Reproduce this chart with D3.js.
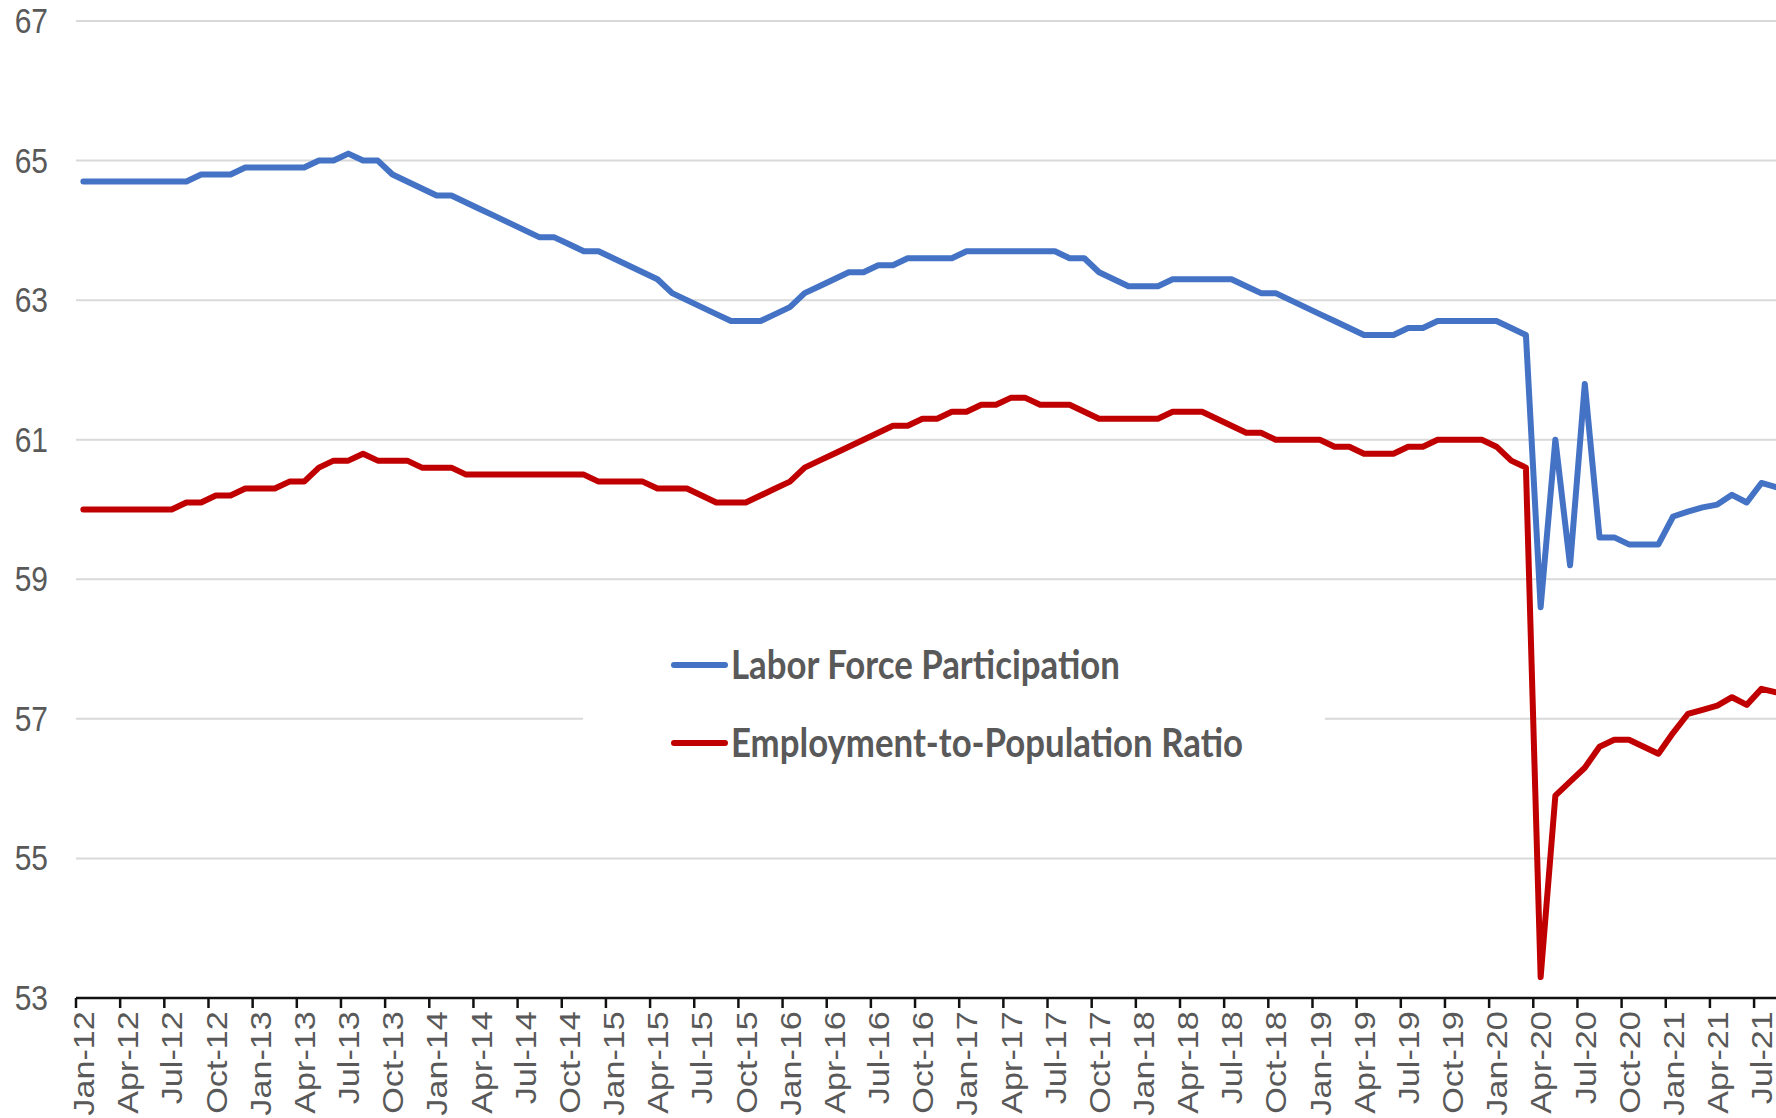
<!DOCTYPE html>
<html>
<head>
<meta charset="utf-8">
<script src="https://cdn.jsdelivr.net/npm/d3@7"></script>
<style>
  body { margin: 0; background: #fff; }
  svg { display: block; }
  .axis-label { font: 30px "Liberation Sans", Arial, sans-serif; fill: #595959; }
  .legend-label { font-family: Lato, "Open Sans", sans-serif; font-weight: bold; fill: #595959; }
</style>
</head>
<body>
<svg id="chart" width="1776" height="1118"></svg>
<script>
// monthly categories, Jan-12 .. Aug-21
const months = [
  'Jan-12','Feb-12','Mar-12','Apr-12','May-12','Jun-12','Jul-12','Aug-12','Sep-12','Oct-12','Nov-12','Dec-12',
  'Jan-13','Feb-13','Mar-13','Apr-13','May-13','Jun-13','Jul-13','Aug-13','Sep-13','Oct-13','Nov-13','Dec-13',
  'Jan-14','Feb-14','Mar-14','Apr-14','May-14','Jun-14','Jul-14','Aug-14','Sep-14','Oct-14','Nov-14','Dec-14',
  'Jan-15','Feb-15','Mar-15','Apr-15','May-15','Jun-15','Jul-15','Aug-15','Sep-15','Oct-15','Nov-15','Dec-15',
  'Jan-16','Feb-16','Mar-16','Apr-16','May-16','Jun-16','Jul-16','Aug-16','Sep-16','Oct-16','Nov-16','Dec-16',
  'Jan-17','Feb-17','Mar-17','Apr-17','May-17','Jun-17','Jul-17','Aug-17','Sep-17','Oct-17','Nov-17','Dec-17',
  'Jan-18','Feb-18','Mar-18','Apr-18','May-18','Jun-18','Jul-18','Aug-18','Sep-18','Oct-18','Nov-18','Dec-18',
  'Jan-19','Feb-19','Mar-19','Apr-19','May-19','Jun-19','Jul-19','Aug-19','Sep-19','Oct-19','Nov-19','Dec-19',
  'Jan-20','Feb-20','Mar-20','Apr-20','May-20','Jun-20','Jul-20','Aug-20','Sep-20','Oct-20','Nov-20','Dec-20',
  'Jan-21','Feb-21','Mar-21','Apr-21','May-21','Jun-21','Jul-21','Aug-21'
];

// Labor Force Participation
const lfp = [
  64.7,64.7,64.7,64.7,64.7,64.7,64.7,64.7,64.8,64.8,64.8,64.9,
  64.9,64.9,64.9,64.9,65.0,65.0,65.1,65.0,65.0,64.8,64.7,64.6,
  64.5,64.5,64.4,64.3,64.2,64.1,64.0,63.9,63.9,63.8,63.7,63.7,
  63.6,63.5,63.4,63.3,63.1,63.0,62.9,62.8,62.7,62.7,62.7,62.8,
  62.9,63.1,63.2,63.3,63.4,63.4,63.5,63.5,63.6,63.6,63.6,63.6,
  63.7,63.7,63.7,63.7,63.7,63.7,63.7,63.6,63.6,63.4,63.3,63.2,
  63.2,63.2,63.3,63.3,63.3,63.3,63.3,63.2,63.1,63.1,63.0,62.9,
  62.8,62.7,62.6,62.5,62.5,62.5,62.6,62.6,62.7,62.7,62.7,62.7,
  62.7,62.6,62.5,58.6,61.0,59.2,61.8,59.6,59.6,59.5,59.5,59.5,
  59.9,59.97,60.03,60.07,60.21,60.1,60.38,60.32
];

// Employment-to-Population Ratio
const epop = [
  60.0,60.0,60.0,60.0,60.0,60.0,60.0,60.1,60.1,60.2,60.2,60.3,
  60.3,60.3,60.4,60.4,60.6,60.7,60.7,60.8,60.7,60.7,60.7,60.6,
  60.6,60.6,60.5,60.5,60.5,60.5,60.5,60.5,60.5,60.5,60.5,60.4,
  60.4,60.4,60.4,60.3,60.3,60.3,60.2,60.1,60.1,60.1,60.2,60.3,
  60.4,60.6,60.7,60.8,60.9,61.0,61.1,61.2,61.2,61.3,61.3,61.4,
  61.4,61.5,61.5,61.6,61.6,61.5,61.5,61.5,61.4,61.3,61.3,61.3,
  61.3,61.3,61.4,61.4,61.4,61.3,61.2,61.1,61.1,61.0,61.0,61.0,
  61.0,60.9,60.9,60.8,60.8,60.8,60.9,60.9,61.0,61.0,61.0,61.0,
  60.9,60.7,60.6,53.3,55.9,56.1,56.3,56.6,56.7,56.7,56.6,56.5,
  56.8,57.07,57.13,57.19,57.31,57.2,57.43,57.38
];

const yTicks = [53, 55, 57, 59, 61, 63, 65, 67];
const seriesNames = ['Labor Force Participation', 'Employment-to-Population Ratio'];
const seriesColors = ['#4472C4', '#C00000'];

const svg = d3.select('#chart');
const plotLeft = 76, plotTop = 21, plotBottom = 998, step = 14.72;
const stretch = 1.14; // the source image is a little taller than wide, text included

const x = d3.scaleBand().domain(months).range([plotLeft, plotLeft + months.length * step]).padding(0);
const y = d3.scaleLinear().domain([53, 67]).range([plotBottom, plotTop]);
const cx = m => x(m) + x.bandwidth() / 2;

svg.append('rect').attr('width', 1776).attr('height', 1118).attr('fill', '#fff');

// gridlines
svg.append('g')
  .selectAll('line')
  .data(yTicks.filter(t => t > 53))
  .enter()
  .append('line')
  .attr('x1', plotLeft).attr('x2', 1776)
  .attr('y1', d => y(d)).attr('y2', d => y(d))
  .attr('stroke', '#d9d9d9').attr('stroke-width', 2);

// y labels
svg.append('g')
  .selectAll('text')
  .data(yTicks)
  .enter()
  .append('text')
  .attr('class', 'axis-label')
  .attr('transform', d => 'translate(48,' + y(d) + ') scale(1,' + stretch + ')')
  .attr('text-anchor', 'end')
  .attr('dy', '0.35em')
  .text(d => d);

// x axis: labels centred on months, ticks on quarter boundaries
const quarterMonths = months.filter((m, i) => i % 3 === 0);
const xAxis = svg.append('g')
  .attr('transform', 'translate(0,' + plotBottom + ')')
  .call(d3.axisBottom(x).tickValues(quarterMonths).tickSize(0));
xAxis.select('.domain').remove();
xAxis.attr('font-size', null).attr('font-family', null);
xAxis.selectAll('text')
  .attr('class', 'axis-label')
  .attr('fill', null)
  .attr('transform', 'scale(1,' + stretch + ') rotate(-90)')
  .attr('text-anchor', 'end')
  .attr('x', -11.5).attr('y', 0).attr('dy', '0.36em');

svg.append('g')
  .selectAll('line')
  .data(quarterMonths)
  .enter()
  .append('line')
  .attr('x1', d => x(d)).attr('x2', d => x(d))
  .attr('y1', plotBottom).attr('y2', plotBottom + 10)
  .attr('stroke', '#111').attr('stroke-width', 2.5);

svg.append('line')
  .attr('x1', plotLeft).attr('x2', 1776)
  .attr('y1', plotBottom).attr('y2', plotBottom)
  .attr('stroke', '#111').attr('stroke-width', 2.5);

// series
const line = d3.line().x((d, i) => cx(months[i])).y(d => y(d));
[lfp, epop].forEach((vals, k) => {
  svg.append('path')
    .attr('d', line(vals))
    .attr('fill', 'none')
    .attr('stroke', seriesColors[k])
    .attr('stroke-width', 6)
    .attr('stroke-linejoin', 'round')
    .attr('stroke-linecap', 'round');
});

// legend
svg.append('rect').attr('x', 583).attr('y', 612).attr('width', 742).attr('height', 180).attr('fill', '#fff');
const legendRows = [665, 743];
const targetWidths = [389, 511];
const legendTexts = seriesNames.map((name, k) => {
  svg.append('line')
    .attr('x1', 674).attr('x2', 725)
    .attr('y1', legendRows[k]).attr('y2', legendRows[k])
    .attr('stroke', seriesColors[k]).attr('stroke-width', 6)
    .attr('stroke-linecap', 'round');
  return svg.append('text')
    .attr('class', 'legend-label')
    .attr('transform', 'translate(731,' + legendRows[k] + ') scale(1,' + stretch + ')')
    .attr('dy', '0.36em')
    .style('font-size', '30px')
    .text(name);
});
const ratio = d3.mean(legendTexts, (t, k) => targetWidths[k] / t.node().getComputedTextLength());
legendTexts.forEach(t => t.style('font-size', (30 * ratio).toFixed(1) + 'px'));
</script>
</body>
</html>
